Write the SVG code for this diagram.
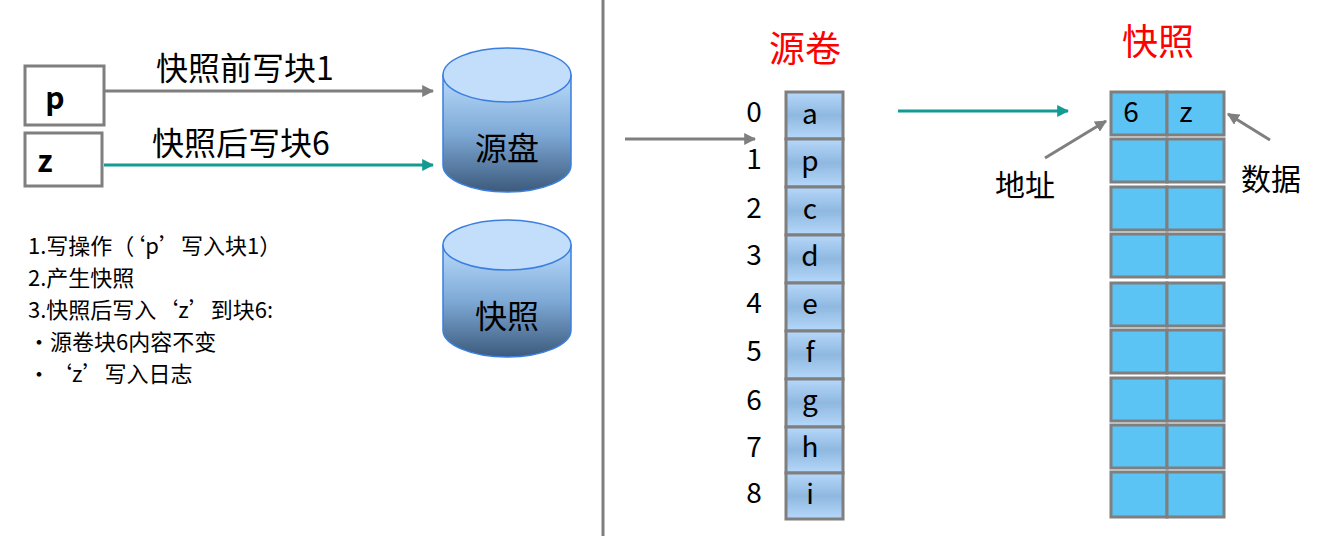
<svg xmlns="http://www.w3.org/2000/svg" width="1323" height="536" viewBox="0 0 1323 536">
<style>
text{font-family:"Noto Sans CJK SC","Liberation Sans",sans-serif;fill:#000}
.box{fill:#fff;stroke:#7f7f7f;stroke-width:3}
.cyl{stroke:#3a7fe0;stroke-width:1.5}
.sc{fill:url(#cg);stroke:#7f7f7f;stroke-width:3}
.nc{fill:#5bc4f5;stroke:#7f7f7f;stroke-width:3}
.num{font-size:28px;text-anchor:middle}
.lt{font-size:28px;text-anchor:middle}
</style>
<defs>
<linearGradient id="body" x1="0" y1="0" x2="0" y2="1"><stop offset="0" stop-color="#b9dbfb"/><stop offset="0.5" stop-color="#7ea9d6"/><stop offset="1" stop-color="#3c5a7c"/></linearGradient>
<linearGradient id="cg" x1="0" y1="0" x2="0" y2="1"><stop offset="0" stop-color="#b6d8fa"/><stop offset="0.5" stop-color="#8fb8e0"/><stop offset="1" stop-color="#b6d8fa"/></linearGradient>
<marker id="ag" viewBox="0 0 10 10" refX="9" refY="5" markerWidth="4" markerHeight="4" orient="auto"><path d="M0,0L10,5L0,10z" fill="#7f7f7f"/></marker>
<marker id="at" viewBox="0 0 10 10" refX="9" refY="5" markerWidth="4" markerHeight="4" orient="auto"><path d="M0,0L10,5L0,10z" fill="#139a93"/></marker>
</defs>
<line x1="603" y1="0" x2="603" y2="536" stroke="#7f7f7f" stroke-width="3"/>
<g id="p"><rect class="box" x="25" y="66" width="79" height="59"/><text x="55" y="109" font-size="30" font-weight="bold" text-anchor="middle">p</text></g>
<g id="z"><rect class="box" x="25" y="133" width="77" height="53"/><text x="45" y="172" font-size="30" font-weight="bold" text-anchor="middle">z</text></g>
<g id="srcdisk"><path class="cyl" fill="url(#body)" d="M443,75 V165 A64,27 0 0 0 571,165 V75 Z"/><ellipse class="cyl" cx="507" cy="75" rx="64" ry="27" fill="#c2defa"/><text x="507" y="160" font-size="32" text-anchor="middle">源盘</text></g>
<g id="snapdisk"><path class="cyl" fill="url(#body)" d="M443,245 V330 A64,27 0 0 0 571,330 V245 Z"/><ellipse class="cyl" cx="507" cy="245" rx="64" ry="25" fill="#c2defa"/><text x="507" y="328" font-size="32" text-anchor="middle">快照</text></g>
<g id="notes" font-size="22">
<text x="28" y="254" font-size="22">1.写操作（‘p’写入块1）</text>
<text x="28" y="286" font-size="22">2.产生快照</text>
<text x="28" y="318" font-size="22">3.快照后写入‘z’到块6:</text>
<text x="28" y="350" font-size="22">•源卷块6内容不变</text>
<text x="28" y="382" font-size="22">•‘z’写入日志</text>
</g>
<g id="src" >
<text x="805" y="62" font-size="36" fill="#ff0000" style="fill:#f00" text-anchor="middle">源卷</text>
<rect class="sc" x="786" y="92" width="57" height="47"/><rect class="sc" x="786" y="139" width="57" height="48"/><rect class="sc" x="786" y="187" width="57" height="48"/><rect class="sc" x="786" y="235" width="57" height="48"/><rect class="sc" x="786" y="283" width="57" height="48"/><rect class="sc" x="786" y="331" width="57" height="48"/><rect class="sc" x="786" y="379" width="57" height="48"/><rect class="sc" x="786" y="427" width="57" height="46"/><rect class="sc" x="786" y="473" width="57" height="46"/>
<text class="lt" x="810" y="124">a</text><text class="lt" x="810" y="171">p</text><text class="lt" x="810" y="219">c</text><text class="lt" x="810" y="266">d</text><text class="lt" x="810" y="314">e</text><text class="lt" x="810" y="362">f</text><text class="lt" x="810" y="410">g</text><text class="lt" x="810" y="457">h</text><text class="lt" x="810" y="504">i</text>
<text class="num" x="754" y="122">0</text><text class="num" x="754" y="169">1</text><text class="num" x="754" y="218">2</text><text class="num" x="754" y="265">3</text><text class="num" x="754" y="313">4</text><text class="num" x="754" y="361">5</text><text class="num" x="754" y="410">6</text><text class="num" x="754" y="457">7</text><text class="num" x="754" y="503">8</text>
</g>
<g id="snap">
<text x="1158" y="55" font-size="36" style="fill:#f00" text-anchor="middle">快照</text>
<g id="cells">
<rect class="nc" x="1111" y="92" width="56" height="43"/><rect class="nc" x="1167" y="92" width="57" height="43"/>
<rect class="nc" x="1111" y="139" width="56" height="43"/><rect class="nc" x="1167" y="139" width="57" height="43"/>
<rect class="nc" x="1111" y="187" width="56" height="43"/><rect class="nc" x="1167" y="187" width="57" height="43"/>
<rect class="nc" x="1111" y="234" width="56" height="43"/><rect class="nc" x="1167" y="234" width="57" height="43"/>
<rect class="nc" x="1111" y="283" width="56" height="43"/><rect class="nc" x="1167" y="283" width="57" height="43"/>
<rect class="nc" x="1111" y="330" width="56" height="43"/><rect class="nc" x="1167" y="330" width="57" height="43"/>
<rect class="nc" x="1111" y="378" width="56" height="43"/><rect class="nc" x="1167" y="378" width="57" height="43"/>
<rect class="nc" x="1111" y="425" width="56" height="43"/><rect class="nc" x="1167" y="425" width="57" height="43"/>
<rect class="nc" x="1111" y="472" width="56" height="45"/><rect class="nc" x="1167" y="472" width="57" height="45"/>
</g>
<text x="1131" y="122" font-size="28" text-anchor="middle">6</text><text x="1186" y="122" font-size="28" text-anchor="middle">z</text>
<text x="1025" y="196" font-size="30" text-anchor="middle">地址</text>
<text x="1271" y="190" font-size="30" text-anchor="middle">数据</text>
</g>
<g id="connectors" stroke-width="3" fill="none">
<line x1="104" y1="91" x2="433" y2="91" stroke="#7f7f7f" marker-end="url(#ag)"/>
<line x1="104" y1="165" x2="433" y2="165" stroke="#139a93" marker-end="url(#at)"/>
<line x1="625" y1="139" x2="755" y2="139" stroke="#7f7f7f" marker-end="url(#ag)"/>
<line x1="898" y1="111" x2="1068" y2="111" stroke="#139a93" marker-end="url(#at)"/>
<line x1="1045" y1="158" x2="1106" y2="121" stroke="#7f7f7f" marker-end="url(#ag)"/>
<line x1="1270" y1="140" x2="1228" y2="114" stroke="#7f7f7f" marker-end="url(#ag)"/>
</g>
<text x="245" y="80" font-size="32" text-anchor="middle">快照前写块1</text>
<text x="241" y="155" font-size="32" text-anchor="middle">快照后写块6</text>
</svg>
